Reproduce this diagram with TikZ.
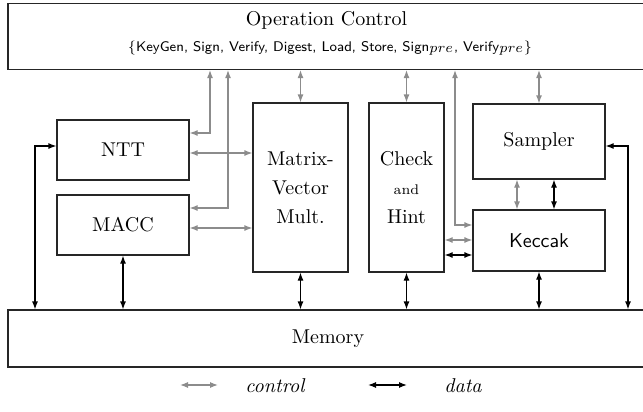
\documentclass[tikz,border=0pt]{standalone}
\usetikzlibrary{arrows.meta}
\begin{document}
\begin{tikzpicture}[x=0.5pt,y=-0.5pt,
  blk/.style={draw=black!85, line width=0.6pt, inner sep=0pt, align=center},
  ctl/.style={draw=black!45, line width=0.6pt, {Latex[length=4pt,width=3pt]}-{Latex[length=4pt,width=3pt]}},
  dat/.style={draw=black, line width=0.6pt, {Latex[length=4pt,width=3pt]}-{Latex[length=4pt,width=3pt]}},
  lbl/.style={font=\itshape}
]
\useasboundingbox (0,0) rectangle (643,412);

% main blocks (positions in units of 0.5pt, sizes in pt)
\node[blk, minimum width=320pt, minimum height=33pt] (op) at (328,36.5) {};
\node[anchor=base] (optitle) at (326.5,25.7) {Operation Control};
\node[anchor=base, font=\scriptsize\sffamily] (opset) at (330,51)
  {$\{$KeyGen, Sign, Verify, Digest, Load, Store, Sign$_{\textstyle pre}$, Verify$_{\textstyle pre}$$\}$};

\node[blk, minimum width=66pt, minimum height=30pt] (ntt) at (123,150) {NTT};
\node[blk, minimum width=66pt, minimum height=30pt] (macc) at (123,225) {MACC};
\node[blk, minimum width=47.5pt, minimum height=84.5pt, text width=44pt] (mv) at (300.5,187.5)
  {Matrix-\\[2.5pt]Vector\\[2.5pt]Mult.};
\node[blk, minimum width=37.5pt, minimum height=84.5pt, text width=34pt] (check) at (406.5,187.5)
  {Check\\[2.5pt]{\scriptsize and}\\[2.5pt]Hint};
\node[blk, minimum width=66pt, minimum height=37.5pt] (sampler) at (539,141.5) {Sampler};
\node[blk, minimum width=66pt, minimum height=30.5pt, font=\sffamily] (keccak) at (539,240.5) {Keccak};
\node[blk, minimum width=320pt, minimum height=28.5pt] (mem) at (328,338.5) {Memory};

% routing points
\coordinate (g1) at (210,133);
\coordinate (g2) at (228,208);
\coordinate (g3) at (455,225);
\coordinate (g4) at (35,146);
\coordinate (g5) at (628,146);
\coordinate (h1) at (0,153);
\coordinate (h2) at (0,228);
\coordinate (h3) at (0,240);
\coordinate (h4) at (0,255);
\coordinate (v1) at (517,0);
\coordinate (v2) at (554,0);

% control connections
\draw[ctl] (op.south -| g1) |- (ntt.east |- g1);
\draw[ctl] (op.south -| g2) |- (macc.east |- g2);
\draw[ctl] (ntt.east |- h1) -- (mv.west |- h1);
\draw[ctl] (macc.east |- h2) -- (mv.west |- h2);
\draw[ctl] (op.south -| mv.north) -- (mv.north);
\draw[ctl] (op.south -| check.north) -- (check.north);
\draw[ctl] (op.south -| g3) |- (keccak.west |- g3);
\draw[ctl] (op.south -| sampler.north) -- (sampler.north);
\draw[ctl] (sampler.south -| v1) -- (keccak.north -| v1);
\draw[ctl] (check.east |- h3) -- (keccak.west |- h3);

% data connections
\draw[dat] (mem.north -| g4) |- (ntt.west |- g4);
\draw[dat] (macc.south) -- (mem.north -| macc.south);
\draw[dat] (mv.south) -- (mem.north -| mv.south);
\draw[dat] (check.south) -- (mem.north -| check.south);
\draw[dat] (keccak.south) -- (mem.north -| keccak.south);
\draw[dat] (sampler.east |- g5) -| (mem.north -| g5);
\draw[dat] (sampler.south -| v2) -- (keccak.north -| v2);
\draw[dat] (check.east |- h4) -- (keccak.west |- h4);

% legend
\coordinate (la) at (180,385);
\coordinate (lb) at (218,385);
\coordinate (lc) at (368,385);
\coordinate (ld) at (407,385);
\draw[ctl] (la) -- (lb);
\draw[dat] (lc) -- (ld);
\node[lbl, anchor=base] (lctl) at (275,392) {control};
\node[lbl, anchor=base] (ldat) at (463,392) {data};
\end{tikzpicture}
\end{document}
